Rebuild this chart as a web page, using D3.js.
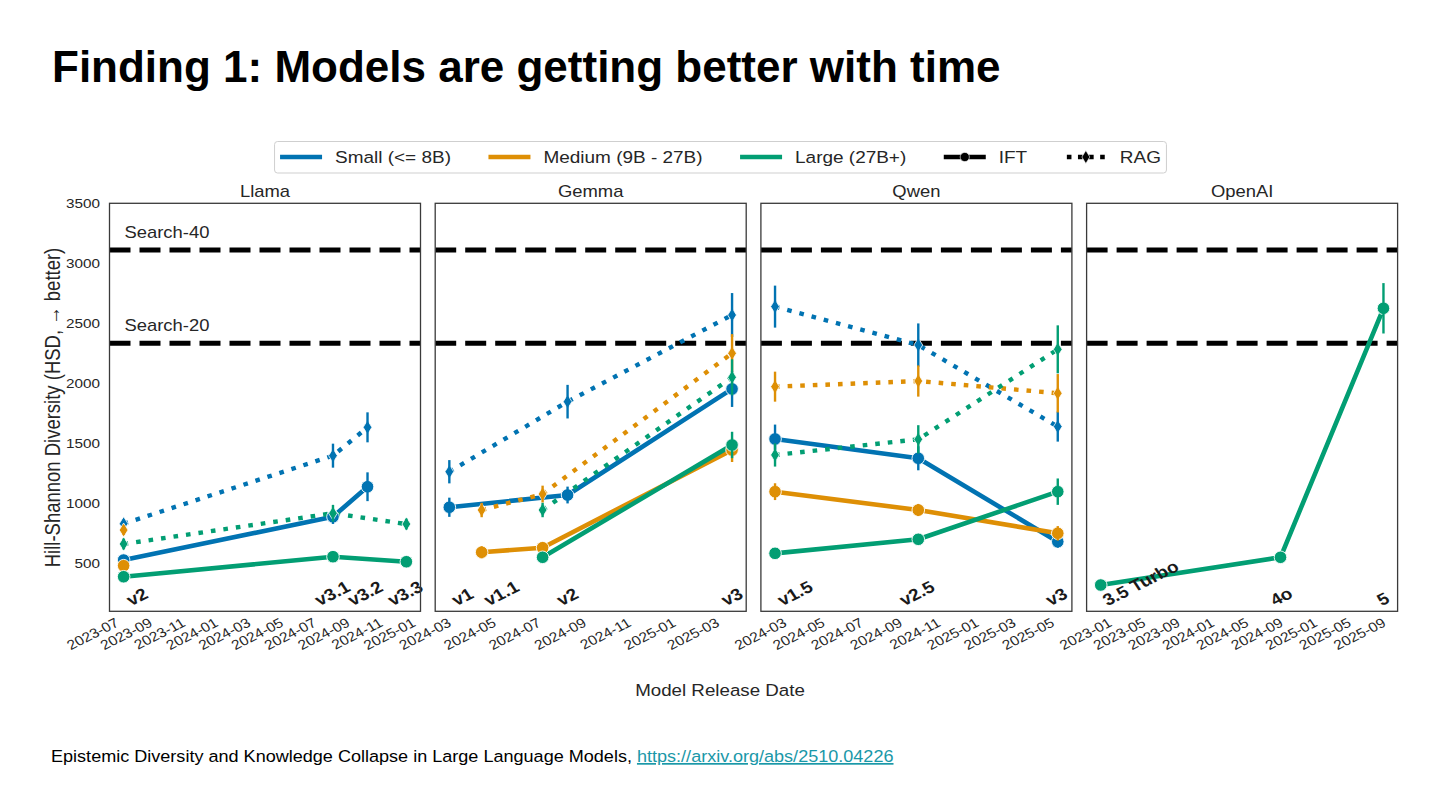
<!DOCTYPE html>
<html><head><meta charset="utf-8">
<script src="https://cdn.jsdelivr.net/npm/d3@7"></script>
<style>body{margin:0;background:#fff}svg{display:block}</style>
</head><body>
<svg id="chart" width="1440" height="810"></svg>
<script>
// ---------- data ----------
const families = ["Llama", "Gemma", "Qwen", "OpenAI"];
const sizeKeys = ["small", "medium", "large"];
const sizeLabels = ["Small (<= 8B)", "Medium (9B - 27B)", "Large (27B+)"];
const sizeColors = ["#0173b2", "#de8f05", "#029e73"];
const methods = ["IFT", "RAG"];
const yTicks = [500, 1000, 1500, 2000, 2500, 3000, 3500];
const searchNames = ["Search-20", "Search-40"];
const searchValues = [2333, 3111];

// [size, method, release date, HSD, error half-width]
const llamaData = [
  ["small", "IFT", "2023-07-01", 527, 40],
  ["small", "IFT", "2024-07-23", 888, 60],
  ["small", "IFT", "2024-09-25", 1138, 120],
  ["small", "RAG", "2023-07-01", 830, 35],
  ["small", "RAG", "2024-07-23", 1397, 100],
  ["small", "RAG", "2024-09-25", 1633, 125],
  ["medium", "IFT", "2023-07-01", 480, 30],
  ["medium", "RAG", "2023-07-01", 777, 40],
  ["large", "IFT", "2023-07-01", 388, 30],
  ["large", "IFT", "2024-07-23", 555, 35],
  ["large", "IFT", "2024-12-06", 513, 35],
  ["large", "RAG", "2023-07-01", 661, 45],
  ["large", "RAG", "2024-07-23", 917, 70],
  ["large", "RAG", "2024-12-06", 827, 45]
];
const gemmaData = [
  ["small", "IFT", "2024-02-21", 967, 80],
  ["small", "IFT", "2024-07-31", 1069, 70],
  ["small", "IFT", "2025-03-12", 1953, 150],
  ["small", "RAG", "2024-02-21", 1263, 97],
  ["small", "RAG", "2024-07-31", 1847, 140],
  ["small", "RAG", "2025-03-12", 2569, 183],
  ["medium", "IFT", "2024-04-05", 592, 50],
  ["medium", "IFT", "2024-06-27", 630, 40],
  ["medium", "IFT", "2025-03-12", 1444, 100],
  ["medium", "RAG", "2024-04-05", 944, 60],
  ["medium", "RAG", "2024-06-27", 1077, 70],
  ["medium", "RAG", "2025-03-12", 2250, 160],
  ["large", "IFT", "2024-06-27", 550, 30],
  ["large", "IFT", "2025-03-12", 1486, 110],
  ["large", "RAG", "2024-06-27", 944, 60],
  ["large", "RAG", "2025-03-12", 2050, 150]
];
const qwenData = [
  ["small", "IFT", "2024-02-04", 1536, 120],
  ["small", "IFT", "2024-09-19", 1375, 100],
  ["small", "IFT", "2025-04-29", 680, 50],
  ["small", "RAG", "2024-02-04", 2639, 175],
  ["small", "RAG", "2024-09-19", 2319, 180],
  ["small", "RAG", "2025-04-29", 1639, 125],
  ["medium", "IFT", "2024-02-04", 1097, 70],
  ["medium", "IFT", "2024-09-19", 944, 50],
  ["medium", "IFT", "2025-04-29", 750, 60],
  ["medium", "RAG", "2024-02-04", 1972, 125],
  ["medium", "RAG", "2024-09-19", 2019, 130],
  ["medium", "RAG", "2025-04-29", 1917, 160],
  ["large", "IFT", "2024-02-04", 583, 30],
  ["large", "IFT", "2024-09-19", 700, 35],
  ["large", "IFT", "2025-04-29", 1097, 110],
  ["large", "RAG", "2024-02-04", 1403, 97],
  ["large", "RAG", "2024-09-19", 1533, 118],
  ["large", "RAG", "2025-04-29", 2283, 200]
];
const openaiData = [
  ["large", "IFT", "2022-11-06", 319, 25],
  ["large", "IFT", "2024-08-06", 550, 30],
  ["large", "IFT", "2025-08-07", 2625, 210]
];

const llamaTicks = ["2023-07", "2023-09", "2023-11", "2024-01", "2024-03", "2024-05", "2024-07", "2024-09", "2024-11", "2025-01"];
const gemmaTicks = ["2024-03", "2024-05", "2024-07", "2024-09", "2024-11", "2025-01", "2025-03"];
const qwenTicks = ["2024-03", "2024-05", "2024-07", "2024-09", "2024-11", "2025-01", "2025-03", "2025-05"];
const openaiTicks = ["2023-01", "2023-05", "2023-09", "2024-01", "2024-05", "2024-09", "2025-01", "2025-05", "2025-09"];

// version annotations: [label, date position]
const llamaVersions = [["v2", "2023-07-26"], ["v3.1", "2024-07-22"], ["v3.2", "2024-09-21"], ["v3.3", "2024-12-04"]];
const gemmaVersions = [["v1", "2024-03-10"], ["v1.1", "2024-05-02"], ["v2", "2024-07-31"], ["v3", "2025-03-12"]];
const qwenVersions = [["v1.5", "2024-03-07"], ["v2.5", "2024-09-17"], ["v3", "2025-04-27"]];
const openaiVersions = [["3.5 Turbo", "2023-03-28"], ["4o", "2024-08-09"], ["5", "2025-08-06"]];

const titleText = "Finding 1: Models are getting better with time";
const yLabel = "Hill-Shannon Diversity (HSD, \u2192 better)";
const xLabel = "Model Release Date";
const footerText = "Epistemic Diversity and Knowledge Collapse in Large Language Models, ";
const footerLink = "https://arxiv.org/abs/2510.04226";

// ---------- layout ----------
const FONT = "'Liberation Sans', Arial, Helvetica, sans-serif";
const SX = 1.15;               // horizontal stretch of the chart image
const TXT = "#262626";
const panelLeft0 = 109.5, panelW = 311, panelGap = 14.7;
const panelTop = 203.3, panelBottom = 611.3;

const svg = d3.select("#chart");
const parse = d3.timeParse("%Y-%m-%d");
const parseM = d3.timeParse("%Y-%m");

const y = d3.scaleLinear().domain([100, 3500]).range([panelBottom, panelTop]);

function sText(parent, str, o) {
  const outer = parent.append("g");
  const inner = outer.append("g").attr("transform", `scale(${o.sx ?? SX},1) rotate(${o.rotate || 0})`);
  inner.append("text").text(str)
    .attr("font-family", FONT).attr("font-size", o.size)
    .attr("font-weight", o.weight || "normal").attr("fill", o.fill || TXT)
    .attr("text-anchor", o.anchor || "start");
  if (o.ha) {
    const bb = outer.node().getBBox();
    let tx = o.x, ty = o.y;
    if (o.ha === "center") tx = o.x - (bb.x + bb.width / 2);
    else if (o.ha === "right") tx = o.x - (bb.x + bb.width);
    else if (o.ha === "left") tx = o.x - bb.x;
    if (o.va === "bottom") ty = o.y - (bb.y + bb.height);
    else if (o.va === "top") ty = o.y - bb.y;
    else if (o.va === "center") ty = o.y - (bb.y + bb.height / 2);
    outer.attr("transform", `translate(${tx},${ty})`);
  } else {
    outer.attr("transform", `translate(${o.x},${o.y})`);
  }
  return outer;
}

// title
svg.append("text").attr("x", 52).attr("y", 82).text(titleText)
  .attr("font-family", FONT).attr("font-size", 44).attr("font-weight", "bold").attr("fill", "#000");

const panelData = [llamaData, gemmaData, qwenData, openaiData];
const panelTicks = [llamaTicks, gemmaTicks, qwenTicks, openaiTicks];
const panelVersions = [llamaVersions, gemmaVersions, qwenVersions, openaiVersions];

const defs = svg.append("defs");

families.forEach((fam, i) => {
  const left = panelLeft0 + i * (panelW + panelGap);
  const right = left + panelW;
  const data = panelData[i];
  const ext = d3.extent(data, d => parse(d[2]));
  const span = ext[1] - ext[0];
  const x = d3.scaleTime()
    .domain([new Date(+ext[0] - 0.05 * span), new Date(+ext[1] + 0.05 * span)])
    .range([left, right]);

  const g = svg.append("g");
  defs.append("clipPath").attr("id", "clip" + i).append("rect")
    .attr("x", left).attr("y", panelTop).attr("width", panelW).attr("height", panelBottom - panelTop);

  // title
  sText(g, fam, { x: (left + right) / 2, y: 197, size: 16, anchor: "middle" });

  // reference lines
  const cl = g.append("g").attr("clip-path", `url(#clip${i})`);
  searchValues.forEach((v, k) => {
    cl.append("line").attr("x1", left).attr("x2", right).attr("y1", y(v)).attr("y2", y(v))
      .attr("stroke", "#000").attr("stroke-width", 5).attr("stroke-dasharray", "21,9");
    if (i === 0) sText(g, searchNames[k], { x: left + 15, y: y(v) - 12, size: 16 });
  });

  // series
  const line = d3.line().x(d => x(parse(d[2]))).y(d => y(d[3]));
  sizeKeys.forEach((s, si) => {
    methods.forEach(m => {
      const rows = data.filter(r => r[0] === s && r[1] === m).sort((a, b) => parse(a[2]) - parse(b[2]));
      if (!rows.length) return;
      const col = sizeColors[si];
      cl.append("path").datum(rows).attr("d", line).attr("fill", "none")
        .attr("stroke", col).attr("stroke-width", m === "IFT" ? 4.6 : 4.4)
        .attr("stroke-linejoin", "round")
        .attr("stroke-dasharray", m === "RAG" ? "4.6,8" : null);
      rows.forEach(r => {
        const cx = x(parse(r[2])), cy = y(r[3]);
        if (m === "IFT") {
          g.append("circle").attr("cx", cx).attr("cy", cy).attr("r", 6.3)
            .attr("fill", col).attr("stroke", "#fff").attr("stroke-width", 0.9);
        } else {
          g.append("path").attr("d", `M${cx},${cy - 7} L${cx + 4.4},${cy} L${cx},${cy + 7} L${cx - 4.4},${cy} Z`)
            .attr("fill", col).attr("stroke", "#fff").attr("stroke-width", 0.8);
        }
        g.append("line").attr("x1", cx).attr("x2", cx).attr("y1", y(r[3] - r[4])).attr("y2", y(r[3] + r[4]))
          .attr("stroke", col).attr("stroke-width", 2.4);
      });
    });
  });

  // version labels
  panelVersions[i].forEach(v => {
    sText(g, v[0], { x: x(parse(v[1])), y: 609.5, size: 16.5, weight: "bold", fill: "#1a1a1a",
      rotate: -30, anchor: "middle", ha: "center", va: "bottom" });
  });

  // frame
  g.append("rect").attr("x", left).attr("y", panelTop).attr("width", panelW).attr("height", panelBottom - panelTop)
    .attr("fill", "none").attr("stroke", "#3a3a3a").attr("stroke-width", 1.3);

  // x tick labels
  panelTicks[i].forEach(t => {
    sText(svg, t, { x: x(parseM(t)) - 2, y: 615, size: 13.5, rotate: -30, anchor: "end", ha: "right", va: "top" });
  });

  // y tick labels (shared axis, first panel only)
  if (i === 0) {
    yTicks.forEach(v => sText(svg, String(v), { x: 100, y: y(v), size: 13.3, anchor: "end", ha: "right", va: "center" }));
  }
});

// axis labels
sText(svg, yLabel, { x: 60, y: 407.5, size: 18.5, rotate: -90, anchor: "middle" });
sText(svg, xLabel, { x: 720, y: 696, size: 16.3, anchor: "middle" });

// legend
const leg = svg.append("g");
const legItems = sizeLabels.map((l, k) => ({ label: l, color: sizeColors[k], kind: "size" }))
  .concat([{ label: "IFT", color: "#000", kind: "IFT" }, { label: "RAG", color: "#000", kind: "RAG" }]);
const handleW = 42, handleGap = 13, colGap = 37.5, legFont = 16.5;
const legBox = leg.append("rect");
let cursor = 0;
const itemsG = leg.append("g");
legItems.forEach(it => {
  const ig = itemsG.append("g").attr("transform", `translate(${cursor},0)`);
  const ln = ig.append("line").attr("x1", 0).attr("x2", handleW).attr("y1", 0).attr("y2", 0)
    .attr("stroke", it.color).attr("stroke-width", 4.6);
  if (it.kind === "RAG") ln.attr("stroke-dasharray", "4.6,6.5").attr("x1", 2);
  if (it.kind === "IFT") ig.append("circle").attr("cx", handleW / 2).attr("cy", 0).attr("r", 4.6).attr("fill", "#000").attr("stroke", "#fff").attr("stroke-width", 0.6);
  if (it.kind === "RAG") ig.append("path").attr("d", `M${handleW / 2},-6.5 L${handleW / 2 + 4},0 L${handleW / 2},6.5 L${handleW / 2 - 4},0 Z`).attr("fill", "#000").attr("stroke", "#fff").attr("stroke-width", 0.6);
  const tg = sText(ig, it.label, { x: handleW + handleGap, y: 6, size: legFont });
  const w = tg.node().getBBox().width;
  cursor += handleW + handleGap + w + colGap;
});
const contentW = cursor - colGap;
const legCx = 720.5, legCy = 157;
const legLeft = legCx - contentW / 2;
itemsG.attr("transform", `translate(${legLeft},${legCy})`);
legBox.attr("x", legLeft - 5.5).attr("y", 141.5).attr("width", contentW + 11).attr("height", 31.5)
  .attr("rx", 3).attr("fill", "#fff").attr("stroke", "#cfcfcf").attr("stroke-width", 1);

// footer
const ftG = svg.append("g").attr("transform", "translate(51,762) scale(1.05,1)");
const ft = ftG.append("text").attr("x", 0).attr("y", 0)
  .attr("font-family", FONT).attr("font-size", 17.2).attr("fill", "#000");
ft.append("tspan").text(footerText);
ft.append("tspan").text(footerLink).attr("fill", "#1a98a8").attr("text-decoration", "underline");
</script>
</body></html>
